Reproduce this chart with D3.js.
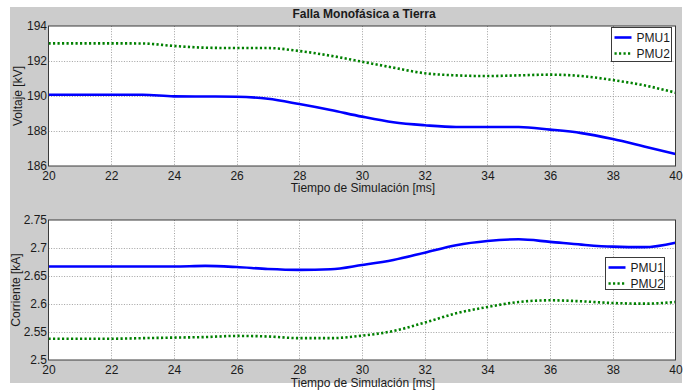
<!DOCTYPE html>
<html>
<head>
<meta charset="utf-8">
<script src="https://cdn.jsdelivr.net/npm/d3@7"></script>
<style>
  html, body { margin: 0; padding: 0; background: #ffffff; }
  svg { display: block; }
  text { font-family: "Liberation Sans", Arial, sans-serif; fill: #1a1a1a; }
</style>
</head>
<body>
<svg id="chart" width="692" height="392"></svg>
<script>
// Simulation time [ms]
const time = [20, 21, 22, 23, 24, 25, 26, 27, 28, 29, 30, 31, 32, 33, 34, 35, 36, 37, 38, 39, 40];

// Voltage [kV]
const voltagePMU1 = [190.07, 190.07, 190.07, 190.07, 189.98, 189.97, 189.96, 189.84, 189.54, 189.2, 188.82,
                     188.5, 188.33, 188.23, 188.23, 188.23, 188.08, 187.88, 187.54, 187.12, 186.69];
const voltagePMU2 = [193.01, 193.01, 193.01, 193.0, 192.86, 192.76, 192.74, 192.74, 192.57, 192.3, 191.96,
                     191.62, 191.3, 191.18, 191.14, 191.18, 191.22, 191.14, 190.91, 190.61, 190.19];

// Current [kA]
const currentPMU1 = [2.667, 2.667, 2.667, 2.667, 2.667, 2.668, 2.666, 2.6625, 2.661, 2.662, 2.6696,
                     2.6786, 2.6917, 2.705, 2.7125, 2.7155, 2.711, 2.706, 2.7024, 2.7015, 2.7095];
const currentPMU2 = [2.538, 2.538, 2.538, 2.539, 2.54, 2.541, 2.543, 2.542, 2.539, 2.539, 2.5434,
                     2.5518, 2.5667, 2.5833, 2.5946, 2.6036, 2.6066, 2.6048, 2.6018, 2.6006, 2.6036];

// Tick labels
const timeTicks = [20, 22, 24, 26, 28, 30, 32, 34, 36, 38, 40];
const voltageTicks = [186, 188, 190, 192, 194];
const currentTicks = [2.5, 2.55, 2.6, 2.65, 2.7, 2.75];

const seriesNames = ["PMU1", "PMU2"];
const chartTitle = "Falla Monofásica a Tierra";
const xTitle = "Tiempo de Simulación [ms]";

const svg = d3.select("#chart");

// Figure background
svg.append("rect").attr("x", 10).attr("y", 7).attr("width", 672).attr("height", 376).attr("fill", "#cccccc");

svg.append("defs").append("clipPath").attr("id", "figClip")
  .append("rect").attr("x", 10).attr("y", 7).attr("width", 672).attr("height", 376);

const left = 48.5, right = 675.5;
const x = d3.scaleLinear().domain([20, 40]).range([left, right]);

const styles = [
  { color: "#0000ff", dash: null },
  { color: "#008000", dash: "2.2,2.3" }
];

function panel(cfg) {
  const y = d3.scaleLinear().domain(cfg.domain).range([cfg.bottom, cfg.top]);
  const g = svg.append("g");

  g.append("rect").attr("x", left).attr("y", cfg.top)
    .attr("width", right - left).attr("height", cfg.bottom - cfg.top).attr("fill", "#ffffff");

  // Grid
  const grid = g.append("g").attr("stroke", "#8a8a8a").attr("stroke-width", 0.8).attr("stroke-dasharray", "1,1.6");
  timeTicks.slice(1, -1).forEach(t => {
    grid.append("line").attr("x1", Math.round(x(t)) + 0.5).attr("x2", Math.round(x(t)) + 0.5)
      .attr("y1", cfg.top).attr("y2", cfg.bottom);
  });
  cfg.ticks.slice(1, -1).forEach(v => {
    grid.append("line").attr("y1", Math.round(y(v)) + 0.5).attr("y2", Math.round(y(v)) + 0.5)
      .attr("x1", left).attr("x2", right);
  });

  // Axes
  const xAxis = d3.axisBottom(x).tickValues(timeTicks).tickSize(0).tickPadding(0).tickFormat(d3.format("d"));
  const xa = g.append("g").attr("transform", `translate(0,${cfg.bottom})`).call(xAxis);
  xa.select(".domain").remove();
  xa.selectAll("text").attr("y", 0).attr("dy", "13.8px").attr("font-size", "12px").style("font-family", "Liberation Sans, Arial, sans-serif").attr("fill", "#1a1a1a");

  const yAxis = d3.axisLeft(y).tickValues(cfg.ticks).tickSize(0).tickPadding(0).tickFormat(cfg.fmt);
  const ya = g.append("g").attr("transform", `translate(${left - 1.5},0)`).call(yAxis);
  ya.select(".domain").remove();
  ya.selectAll("text").attr("x", 0).attr("dy", "0.32em").attr("font-size", "12px").style("font-family", "Liberation Sans, Arial, sans-serif").attr("fill", "#1a1a1a");

  // Series
  cfg.series.forEach((vals, i) => {
    const line = d3.line().x((d, k) => x(time[k])).y(d => y(d)).curve(d3.curveMonotoneX);
    g.append("path").datum(vals).attr("d", line).attr("fill", "none")
      .attr("stroke", styles[i].color).attr("stroke-width", 2.6)
      .attr("stroke-dasharray", styles[i].dash);
  });

  // Axes box
  g.append("rect").attr("x", left).attr("y", cfg.top)
    .attr("width", right - left).attr("height", cfg.bottom - cfg.top)
    .attr("fill", "none").attr("stroke", "#3a3a3a").attr("stroke-width", 1);

  // Axis titles
  g.append("text").attr("x", 363).attr("y", cfg.xLabelY).attr("text-anchor", "middle")
    .attr("font-size", "12px").text(xTitle);
  g.append("g").attr("clip-path", "url(#figClip)")
    .append("text")
    .attr("transform", `translate(${cfg.yLabelX},${(cfg.top + cfg.bottom) / 2}) rotate(-90)`)
    .attr("text-anchor", "middle").attr("font-size", "12px").text(cfg.yLabel);

  // Legend
  const lg = g.append("g");
  lg.append("rect").attr("x", cfg.legend.x).attr("y", cfg.legend.y)
    .attr("width", cfg.legend.w).attr("height", cfg.legend.h)
    .attr("fill", "#ffffff").attr("stroke", "#3a3a3a").attr("stroke-width", 1);
  seriesNames.forEach((name, i) => {
    const cy = cfg.legend.y + 10 + i * 16;
    lg.append("line").attr("x1", cfg.legend.x + 3).attr("x2", cfg.legend.x + 20)
      .attr("y1", cy).attr("y2", cy)
      .attr("stroke", styles[i].color).attr("stroke-width", 2.6).attr("stroke-dasharray", styles[i].dash);
    lg.append("text").attr("x", cfg.legend.x + 25).attr("y", cy).attr("dy", "0.36em")
      .attr("font-size", "12px").text(name);
  });
}

panel({
  top: 26, bottom: 166, domain: [186, 194], ticks: voltageTicks, fmt: d3.format("d"),
  series: [voltagePMU1, voltagePMU2], xLabelY: 191.5, yLabelX: 22, yLabel: "Voltaje [kV]",
  legend: { x: 611.5, y: 27.5, w: 60, h: 34 }
});

panel({
  top: 220, bottom: 360, domain: [2.5, 2.75], ticks: currentTicks, fmt: d => String(d),
  series: [currentPMU1, currentPMU2], xLabelY: 386.5, yLabelX: 20, yLabel: "Corriente [kA]",
  legend: { x: 605.5, y: 257.5, w: 59, h: 32 }
});

// Title
svg.append("text").attr("x", 364).attr("y", 18).attr("text-anchor", "middle")
  .attr("font-size", "12px").attr("font-weight", "bold").text(chartTitle);
</script>
</body>
</html>
